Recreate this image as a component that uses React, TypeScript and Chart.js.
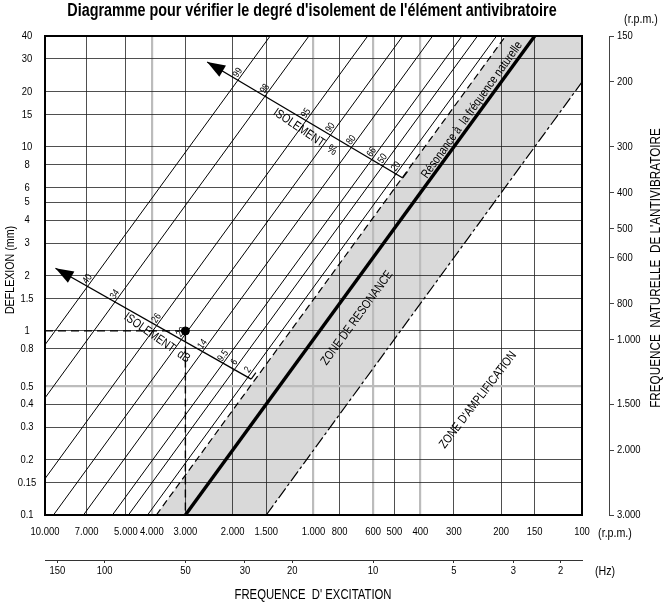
import React, { useEffect, useRef } from 'react';
import { Chart, registerables } from 'chart.js';

Chart.register(...registerables);

// ---------- data ----------
const rpmTicks = [10000, 7000, 5000, 4000, 3000, 2000, 1500, 1000, 800, 600, 500, 400, 300, 200, 150, 100];
const rpmTickLabels = ['10.000', '7.000', '5.000', '4.000', '3.000', '2.000', '1.500', '1.000', '800', '600', '500', '400', '300', '200', '150', '100'];
const grayRpmLines = [4000, 1000, 600, 400];

const deflectionTicks = [0.1, 0.15, 0.2, 0.3, 0.4, 0.5, 0.8, 1, 1.5, 2, 3, 4, 5, 6, 8, 10, 15, 20, 30, 40];
const deflectionTickLabels = ['0.1', '0.15', '0.2', '0.3', '0.4', '0.5', '0.8', '1', '1.5', '2', '3', '4', '5', '6', '8', '10', '15', '20', '30', '40'];
const grayDeflectionLines = [0.5];

const naturalRpmTicks = [150, 200, 300, 400, 500, 600, 800, 1000, 1500, 2000, 3000];
const naturalRpmLabels = ['150', '200', '300', '400', '500', '600', '800', '1.000', '1.500', '2.000', '3.000'];

const hzTicks = [150, 100, 50, 30, 20, 10, 5, 3, 2];
const hzTickLabels = ['150', '100', '50', '30', '20', '10', '5', '3', '2'];

// deflection (mm) at the two ends of every diagonal line
const deflectionEnds = [0.1, 40];
// excitation rpm where each isolation line meets 0.1 mm and 40 mm
const isoLowRpm = [29000, 20800, 12550, 9300, 7190, 5610, 4890, 4150];
const isoHighRpm = [1450, 1040, 628, 465, 360, 280, 245, 208];
const isoPercentLabels = ['99', '98', '95', '90', '80', '66', '50', '20'];
const isoDbLabels = ['40', '34', '26', '20', '14', '9.5', '6', '2'];

const resonanceRpm = [3000, 150];
const resonanceLowerRpm = [3850, 192.5];
const amplificationRpm = [1500, 75];

// worked example: 3000 rpm, 1 mm
const exampleRpm = [10000, 3000, 3000];
const exampleMm = [1, 1, 0.1];

// isolation scales (arrow tip first): rpm, mm
const percentScaleRpm = [2489, 465];
const percentScaleMm = [28.9, 6.77];
const dbScaleRpm = [9141, 1707];
const dbScaleMm = [2.19, 0.547];

// ---------- helpers ----------
const FAM = "'Liberation Sans', Arial, sans-serif";
const NARROW = 0.82;
const pts = (xs: number[], ys: number[]) => xs.map((x, i) => ({ x, y: ys[i] }));

// narrow text (Helvetica-Narrow look): Liberation Sans squeezed horizontally
function txt(
  ctx: CanvasRenderingContext2D,
  s: string,
  x: number,
  y: number,
  size: number,
  angle = 0,
  align: CanvasTextAlign = 'center',
  bold = false,
  sx = NARROW,
) {
  ctx.save();
  ctx.translate(x, y);
  ctx.rotate((angle * Math.PI) / 180);
  ctx.scale(sx, 1);
  ctx.font = `${bold ? 'bold ' : ''}${size}px ${FAM}`;
  ctx.textAlign = align;
  ctx.textBaseline = 'middle';
  ctx.fillStyle = '#000';
  ctx.fillText(s, 0, 0);
  ctx.restore();
}

function intersect(a1: any, a2: any, b1: any, b2: any) {
  const d = (a2.x - a1.x) * (b2.y - b1.y) - (a2.y - a1.y) * (b2.x - b1.x);
  if (Math.abs(d) < 1e-9) return null;
  const t = ((b1.x - a1.x) * (b2.y - b1.y) - (b1.y - a1.y) * (b2.x - b1.x)) / d;
  return { x: a1.x + t * (a2.x - a1.x), y: a1.y + t * (a2.y - a1.y) };
}

const annotPlugin = {
  id: 'annot',
  afterDatasetsDraw(chart: any) {
    const ctx: CanvasRenderingContext2D = chart.ctx;
    const xs = chart.scales.x;
    const ys = chart.scales.y;
    const P = (r: number, m: number) => ({ x: xs.getPixelForValue(r), y: ys.getPixelForValue(m) });

    const drawScale = (rpm: number[], mm: number[], labels: string[]) => {
      const tip = P(rpm[0], mm[0]);
      const end = P(rpm[1], mm[1]);
      let dx = tip.x - end.x, dy = tip.y - end.y;
      const len = Math.hypot(dx, dy);
      dx /= len; dy /= len;
      const L = 18, W = 6.5;
      ctx.save();
      ctx.fillStyle = '#000';
      ctx.beginPath();
      ctx.moveTo(tip.x, tip.y);
      ctx.lineTo(tip.x - dx * L - dy * W, tip.y - dy * L + dx * W);
      ctx.lineTo(tip.x - dx * L + dy * W, tip.y - dy * L - dx * W);
      ctx.closePath();
      ctx.fill();
      ctx.restore();
      labels.forEach((lab, i) => {
        const a = P(isoLowRpm[i], deflectionEnds[0]);
        const b = P(isoHighRpm[i], deflectionEnds[1]);
        const c = intersect(end, tip, a, b);
        if (!c) return;
        let ux = b.x - a.x, uy = b.y - a.y;
        const ul = Math.hypot(ux, uy);
        ux /= ul; uy /= ul;
        const nx = uy, ny = -ux; // left perpendicular
        const ang = (Math.atan2(uy, ux) * 180) / Math.PI;
        txt(ctx, lab, c.x + ux * 6 + nx * 4.5, c.y + uy * 6 + ny * 4.5, 10, ang);
      });
      const a = P(isoLowRpm[0], deflectionEnds[0]);
      const b = P(isoHighRpm[0], deflectionEnds[1]);
      const ux = b.x - a.x, uy = b.y - a.y;
      const ul = Math.hypot(ux, uy);
      ctx.save();
      ctx.strokeStyle = '#000';
      ctx.lineWidth = 1.2;
      ctx.beginPath();
      ctx.moveTo(end.x, end.y);
      ctx.lineTo(end.x + (ux / ul) * 8, end.y + (uy / ul) * 8);
      ctx.stroke();
      ctx.restore();
    };
    drawScale(percentScaleRpm, percentScaleMm, isoPercentLabels);
    drawScale(dbScaleRpm, dbScaleMm, isoDbLabels);

    txt(ctx, 'ISOLEMENT  %', 305, 132, 12.5, 34);
    txt(ctx, 'ISOLEMENT  dB', 157, 338, 12.5, 35);
    txt(ctx, 'Résonance à  la fréquence naturelle', 472, 110, 12.5, -54.5);
    txt(ctx, 'ZONE DE RESONANCE', 357, 318, 12.5, -54);
    txt(ctx, "ZONE D'AMPLIFICATION", 478, 400, 12.5, -52.5);
  },
  afterDraw(chart: any) {
    const ctx: CanvasRenderingContext2D = chart.ctx;
    const ca = chart.chartArea;
    const { x: xs, y: ys, yN, xHz } = chart.scales;

    ctx.save();
    ctx.strokeStyle = '#000';
    ctx.lineWidth = 2;
    ctx.strokeRect(ca.left, ca.top, ca.right - ca.left, ca.bottom - ca.top);
    ctx.restore();

    // tick labels, positioned by the chart's own scales
    rpmTicks.forEach((v, i) => txt(ctx, rpmTickLabels[i], xs.getPixelForValue(v), ca.bottom + 17, 11.5));
    deflectionTicks.forEach((v, i) => txt(ctx, deflectionTickLabels[i], 27, ys.getPixelForValue(v), 11.5));
    naturalRpmTicks.forEach((v, i) => txt(ctx, naturalRpmLabels[i], yN.left + 8, yN.getPixelForValue(v), 11.5, 0, 'left'));
    hzTicks.forEach((v, i) => txt(ctx, hzTickLabels[i], xHz.getPixelForValue(v), xHz.top + 11, 11.5));

    txt(ctx, "Diagramme pour vérifier le degré d'isolement de l'élément antivibratoire", 312, 11, 17.5, 0, 'center', true);
    txt(ctx, '(r.p.m.)', 641, 19, 13);
    txt(ctx, '(r.p.m.)', 615, 533, 13);
    txt(ctx, '(Hz)', 605, 571, 13);
    txt(ctx, "FREQUENCE  D' EXCITATION", 313, 595, 13.8);
    txt(ctx, 'DEFLEXION (mm)', 10, 270, 13, -90);
    txt(ctx, "FREQUENCE  NATURELLE  DE L'ANTIVIBRATOIRE", 656, 268, 14.3, -90);
  },
};

export default function App() {
  const ref = useRef<HTMLCanvasElement>(null);
  useEffect(() => {
    const canvas = ref.current;
    if (!canvas) return;

    const thin = { borderColor: '#000', borderWidth: 1, pointRadius: 0, fill: false, tension: 0 };
    const isoSets = isoLowRpm.map((lo, i) => ({
      ...thin,
      data: pts([lo, isoHighRpm[i]], deflectionEnds),
    }));

    const datasets: any[] = [
      {
        data: pts(
          [resonanceLowerRpm[0], resonanceLowerRpm[1], amplificationRpm[1], amplificationRpm[0]],
          [deflectionEnds[0], deflectionEnds[1], deflectionEnds[1], deflectionEnds[0]],
        ),
        borderWidth: 0,
        borderColor: 'rgba(0,0,0,0)',
        backgroundColor: '#d9d9d9',
        fill: 'shape',
        pointRadius: 0,
      },
      ...isoSets,
      { ...thin, borderWidth: 1.2, borderDash: [7, 4], data: pts(resonanceLowerRpm, deflectionEnds) },
      { ...thin, borderWidth: 1.2, borderDash: [12, 3, 3, 3], data: pts(amplificationRpm, deflectionEnds) },
      { ...thin, borderWidth: 3.4, data: pts(resonanceRpm, deflectionEnds) },
      { ...thin, borderWidth: 1.4, borderDash: [8, 5], data: pts(exampleRpm, exampleMm) },
      { ...thin, data: pts(percentScaleRpm, percentScaleMm), borderWidth: 1.4 },
      { ...thin, data: pts(dbScaleRpm, dbScaleMm), borderWidth: 1.4 },
      {
        data: pts([exampleRpm[1]], [exampleMm[1]]),
        showLine: false,
        pointRadius: 4,
        pointBackgroundColor: '#000',
        pointBorderColor: '#000',
      },
    ];

    const chart = new Chart(canvas, {
      type: 'line',
      data: { datasets },
      plugins: [annotPlugin],
      options: {
        animation: false,
        responsive: false,
        devicePixelRatio: 1,
        events: [],
        layout: { padding: { top: 36, left: 0, right: 0, bottom: 0 } },
        plugins: {
          legend: { display: false },
          tooltip: { enabled: false },
          title: { display: false },
          filler: { drawTime: 'beforeDraw' },
        } as any,
        scales: {
          x: {
            type: 'logarithmic',
            position: 'bottom',
            min: 100,
            max: 10000,
            reverse: true,
            weight: 0,
            border: { display: false },
            grid: {
              drawTicks: false,
              color: (c: any) => (c.tick && grayRpmLines.includes(c.tick.value) ? '#bcbcbc' : '#222'),
              lineWidth: (c: any) => (c.tick && grayRpmLines.includes(c.tick.value) ? 2.2 : 0.8),
            },
            ticks: { display: false },
            afterBuildTicks: (s: any) => { s.ticks = rpmTicks.map((v) => ({ value: v })); },
            afterFit: (s: any) => { s.height = 45; },
          },
          xHz: {
            type: 'logarithmic',
            position: 'bottom',
            min: 100 / 60,
            max: 10000 / 60,
            reverse: true,
            weight: 1,
            border: { display: true, color: '#333', width: 1 },
            grid: { display: true, drawOnChartArea: false, drawTicks: true, tickLength: 3, color: '#333' },
            ticks: { display: false },
            afterBuildTicks: (s: any) => { s.ticks = hzTicks.map((v) => ({ value: v })); },
            afterFit: (s: any) => { s.height = 43; },
          },
          y: {
            type: 'logarithmic',
            position: 'left',
            min: 0.1,
            max: 40,
            border: { display: false },
            grid: {
              drawTicks: false,
              color: (c: any) => (c.tick && grayDeflectionLines.includes(c.tick.value) ? '#bcbcbc' : '#222'),
              lineWidth: (c: any) => (c.tick && grayDeflectionLines.includes(c.tick.value) ? 2.2 : 0.8),
            },
            ticks: { display: false },
            afterBuildTicks: (s: any) => { s.ticks = deflectionTicks.map((v) => ({ value: v })); },
            afterFit: (s: any) => { s.width = 45; },
          },
          gap: {
            type: 'linear',
            position: 'right',
            weight: 0,
            display: true,
            border: { display: false },
            grid: { display: false },
            ticks: { display: false },
            afterFit: (s: any) => { s.width = 27; },
          },
          yN: {
            type: 'logarithmic',
            position: 'right',
            weight: 1,
            min: 150,
            max: 3000,
            reverse: true,
            border: { display: true, color: '#444', width: 1 },
            grid: { display: true, drawOnChartArea: false, drawTicks: true, tickLength: 5, color: '#444' },
            ticks: { display: false },
            afterBuildTicks: (s: any) => { s.ticks = naturalRpmTicks.map((v) => ({ value: v })); },
            afterFit: (s: any) => { s.width = 59; },
          },
        } as any,
      },
    } as any);
    return () => chart.destroy();
  }, []);

  return (
    <div style={{ position: 'absolute', left: 0, top: 0, width: 668, height: 603, background: '#fff' }}>
      <canvas ref={ref} width={668} height={603} style={{ display: 'block', width: 668, height: 603 }} />
    </div>
  );
}
